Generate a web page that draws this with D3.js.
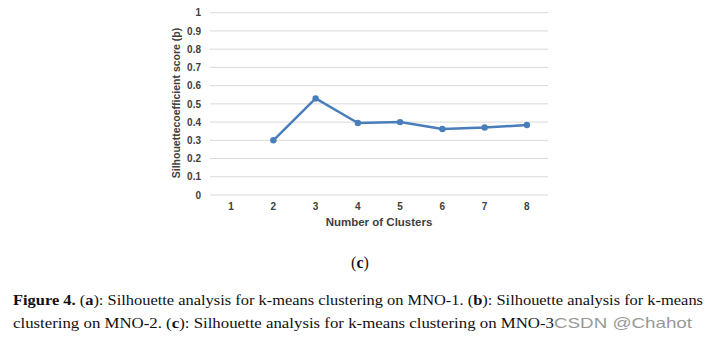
<!DOCTYPE html>
<html><head><meta charset="utf-8">
<script src="https://cdn.jsdelivr.net/npm/d3@7"></script>
<style>body{margin:0;background:#fff}svg{display:block}</style>
</head><body>
<svg id="c" width="706" height="340"></svg>
<script>
const categories = ["1","2","3","4","5","6","7","8"];
const seriesX = ["2","3","4","5","6","7","8"];
const seriesY = [0.30,0.53,0.395,0.40,0.362,0.37,0.384];
const yTicks = [0,0.1,0.2,0.3,0.4,0.5,0.6,0.7,0.8,0.9,1];
const yTickLabels = ["0","0.1","0.2","0.3","0.4","0.5","0.6","0.7","0.8","0.9","1"];

const svg = d3.select("#c");
const x = d3.scaleBand().domain(categories).range([210,548]);
const y = d3.scaleLinear().domain([0,1]).range([195,12.7]);
const font = "Arial, 'Liberation Sans', sans-serif";

// gridlines
svg.append("g").selectAll("line").data(yTicks).join("line")
  .attr("x1",210).attr("x2",548)
  .attr("y1",d=>y(d)).attr("y2",d=>y(d))
  .attr("stroke","#d9d9d9").attr("stroke-width",1);

// y axis
const yAxis = svg.append("g").attr("transform","translate(210,0)")
  .call(d3.axisLeft(y).tickValues(yTicks).tickFormat((d,i)=>yTickLabels[i]).tickSize(0).tickPadding(9));
yAxis.select(".domain").remove();
yAxis.selectAll("text").attr("font-family",font).attr("font-size",10).attr("font-weight","bold").attr("fill","#404040");

// x axis
const xAxis = svg.append("g").attr("transform","translate(0,195)")
  .call(d3.axisBottom(x).tickSize(0).tickPadding(8));
xAxis.select(".domain").remove();
xAxis.selectAll("text").attr("font-family",font).attr("font-size",10).attr("font-weight","bold").attr("fill","#404040");

// axis titles
svg.append("text").attr("transform","translate(180,103) rotate(-90)")
  .attr("text-anchor","middle").attr("font-family",font).attr("font-size",10.5).attr("font-weight","bold").attr("fill","#404040")
  .text("Silhouettecoefficient score (þ)");
svg.append("text").attr("x",379).attr("y",226)
  .attr("text-anchor","middle").attr("font-family",font).attr("font-size",11.5).attr("font-weight","bold").attr("fill","#404040")
  .text("Number of Clusters");

// line
const pts = seriesX.map((k,i)=>({k,v:seriesY[i]}));
const cx = d=>x(d.k)+x.bandwidth()/2;
svg.append("path").datum(pts)
  .attr("d",d3.line().x(cx).y(d=>y(d.v)))
  .attr("fill","none").attr("stroke","#4a7ebb").attr("stroke-width",2.5).attr("stroke-linejoin","round");
svg.append("g").selectAll("circle").data(pts).join("circle")
  .attr("cx",cx).attr("cy",d=>y(d.v)).attr("r",3.2).attr("fill","#4a7ebb");

// caption
const c = svg.append("text").attr("x",360).attr("y",268).attr("text-anchor","middle")
  .attr("font-family","'Liberation Serif',serif").attr("font-size",16).attr("fill","#111");
c.append("tspan").text("(");
c.append("tspan").attr("font-weight","bold").text("c");
c.append("tspan").text(")");

function line(yy, parts, len){
  const t = svg.append("text").attr("x",13).attr("y",yy)
    .attr("font-family","'Liberation Serif',serif").attr("font-size",15.5).attr("fill","#111")
    .attr("textLength",len).attr("lengthAdjust","spacingAndGlyphs");
  parts.forEach(p=>t.append("tspan").attr("font-weight",p[1]?"bold":"normal").text(p[0]));
}
line(305,[["Figure 4.",true],[" (",false],["a",true],["): Silhouette analysis for k-means clustering on MNO-1. (",false],["b",true],["): Silhouette analysis for k-means",false]],690);
line(328,[["clustering on MNO-2. (",false],["c",true],["): Silhouette analysis for k-means clustering on MNO-3",false]],541);
svg.append("text").attr("x",554).attr("y",328)
  .attr("font-family","Arial, 'Liberation Sans', sans-serif").attr("font-size",15).attr("fill","#999")
  .attr("textLength",138).attr("lengthAdjust","spacingAndGlyphs")
  .text("CSDN @Chahot");
</script>
</body></html>
